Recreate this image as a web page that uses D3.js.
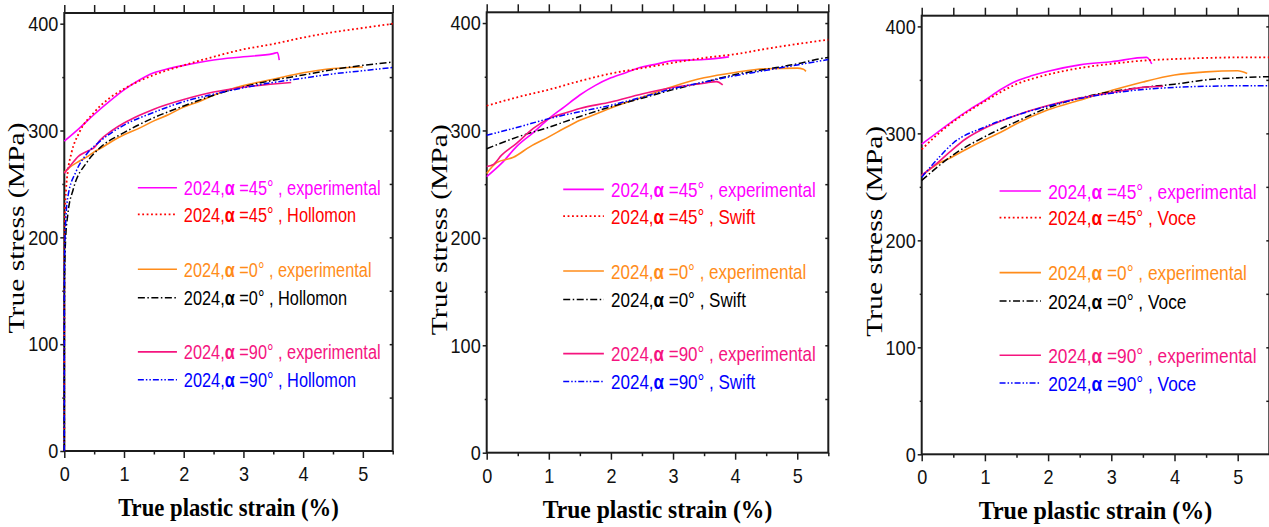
<!DOCTYPE html>
<html>
<head>
<meta charset="utf-8">
<script src="https://cdn.jsdelivr.net/npm/d3@7"></script>
<style>
  body { margin: 0; background: #fff; }
  svg { display: block; }
</style>
</head>
<body>
<svg id="chart" width="1269" height="527"></svg>
<script>
// tick labels and names
const strainTicks = [0, 1, 2, 3, 4, 5];
const stressTicks = [0, 100, 200, 300, 400];
const models = ["Hollomon", "Swift", "Voce"];
const angles = ["45", "45", "0", "0", "90", "90"];

// [true plastic strain %, true stress MPa]
// panel 1 - Hollomon
const hol_exp45 = [[0,290],[0.25,302],[0.5,315],[0.75,327],[1,338],[1.25,347],[1.5,354],[1.75,358],[2,361],[2.5,366],[3,369],[3.5,372],[3.57,373],[3.6,366]];
const hol_fit45 = [[0,0],[0.002,180],[0.01,220],[0.03,245],[0.06,262],[0.12,279],[0.25,298],[0.5,317],[0.75,330],[1,339],[1.5,352],[2,361],[2.5,369],[3,376],[3.5,381],[4,387],[4.5,392],[5,396],[5.5,400]];
const hol_exp0 = [[0,261],[0.1,266],[0.24,271],[0.4,276],[0.5,280],[0.6,283],[0.8,290],[1,296],[1.25,302],[1.5,309],[1.75,315],[2,322],[2.25,327],[2.5,333],[2.75,338],[3,342],[3.5,348],[4,354],[4.5,358],[5,359.5]];
const hol_fit0 = [[0,0],[0.001,140],[0.005,167],[0.02,196],[0.06,222],[0.15,245],[0.375,270],[0.6,284],[1,298],[1.5,312],[2,323],[2.5,333],[3,341],[3.5,347],[4,352],[4.5,357],[5,361],[5.5,364]];
const hol_exp90 = [[0,260],[0.1,267],[0.24,276],[0.4,281],[0.5,284],[0.6,291],[0.8,300],[1,307],[1.25,314],[1.5,320],[2,329],[2.5,336],[3,340.5],[3.5,343.5],[3.8,345]];
const hol_fit90 = [[0,0],[0.001,150],[0.005,180],[0.02,210],[0.06,238],[0.2,262],[0.375,278],[0.6,290],[1,305],[1.5,317],[2,327],[2.5,334],[3,340],[3.5,345],[4,349],[4.5,353],[5,356],[5.5,359]];

// panel 2 - Swift
const swi_exp45 = [[0,257],[0.25,270],[0.48,285],[0.75,298],[1,311],[1.25,322],[1.5,333],[1.75,342],[2,349],[2.25,354],[2.5,359],[2.75,362],[3,365],[3.5,366],[3.9,368.5]];
const swi_fit45 = [[0,323],[0.5,331],[1,338],[1.5,346],[2,353],[2.5,358],[3,363],[3.5,367.5],[4,371],[4.5,376],[5,380.5],[5.5,384.5]];
const swi_exp0 = [[0,260],[0.16,270],[0.43,275],[0.7,285],[1,294],[1.25,302],[1.5,309.5],[1.75,315],[2,321],[2.5,331],[3,341],[3.5,349],[4,354],[4.5,357.5],[5,358],[5.1,357],[5.14,355]];
const swi_fit0 = [[0,283],[0.5,294],[1,303],[1.5,313],[2,322],[2.5,330],[3,338],[3.5,345],[4,352],[4.5,357],[5,362],[5.3,366],[5.5,368]];
const swi_exp90 = [[0,266.5],[0.1,268],[0.24,277],[0.48,288],[0.75,302],[1,311],[1.25,316],[1.5,320.5],[2,326.5],[2.5,334],[3,340],[3.5,344],[3.7,345.5],[3.8,342.5]];
const swi_fit90 = [[0,295.5],[0.5,303],[1,311],[1.5,317.5],[2,323.5],[2.5,331],[3,339],[3.5,345],[4,351],[4.5,356],[5,361],[5.5,366]];

// panel 3 - Voce
const voc_exp45 = [[0,290],[0.25,301],[0.5,312],[0.75,322],[1,331],[1.25,341],[1.5,349],[1.75,354],[2,358],[2.5,364],[3,367],[3.56,371],[3.64,365]];
const voc_fit45 = [[0,285],[0.25,299],[0.5,311],[0.75,321],[1,330],[1.5,346],[2,355],[2.5,361],[3,365],[3.5,368],[4,369.5],[4.5,370.5],[5,371],[5.5,371]];
const voc_exp0 = [[0,260],[0.24,271],[0.45,277],[0.7,285],[1,294],[1.25,301],[1.5,309],[2,322],[2.5,331],[3,340],[3.5,348],[4,354.5],[4.5,357.5],[5,358.5],[5.15,356]];
const voc_fit0 = [[0,256],[0.5,280],[1,297],[1.5,311],[2,324],[2.5,333],[3,339],[3.5,343],[4,346],[4.5,350],[5,352],[5.5,353]];
const voc_exp90 = [[0,261],[0.24,272],[0.45,283],[0.7,295],[1,305],[1.5,317],[2,326],[2.5,333],[3,338],[3.5,343],[3.82,344]];
const voc_fit90 = [[0,259],[0.25,276],[0.5,291],[1,306],[1.5,317],[2,325.5],[2.5,332.5],[3,337.5],[3.5,341],[4,343],[4.5,344],[5,344.5],[5.5,344.5]];

const panelSeries = [
    [hol_exp45, hol_fit45, hol_exp0, hol_fit0, hol_exp90, hol_fit90],
    [swi_exp45, swi_fit45, swi_exp0, swi_fit0, swi_exp90, swi_fit90],
    [voc_exp45, voc_fit45, voc_exp0, voc_fit0, voc_exp90, voc_fit90]
];

// styles, same order as the series
const colors = ["#ff00ff", "#ff0000", "#ff8c1a", "#000000", "#f5147f", "#0000ff"];
const dashes = [null, "1.8,2.6", null, "7,2.5,1.5,2.5", null, "6,2,1.5,2,1.5,2"];
const widths = [1.6, 1.8, 1.6, 1.5, 1.6, 1.5];

// pixel boxes of the three plots
const boxes = [
    { left: 64.3, right: 392.7, top: 13, bottom: 451 },
    { left: 486.7, right: 828.3, top: 12.3, bottom: 452.7 },
    { left: 921.7, right: 1269.3, top: 15.7, bottom: 454.3 }
];
const legendRows = [263.3, 236.6, 181.7, 153.2, 99.1, 71.2]; // px above the x axis

const svg = d3.select("#chart");
const sans = "'Liberation Sans', Arial, sans-serif";
const serif = "'Liberation Serif', 'Times New Roman', serif";
const frameColor = "#1c1c1c";

function squeeze(sel, f) {
    sel.each(function () {
        const w = this.getComputedTextLength();
        d3.select(this).attr("textLength", w * f).attr("lengthAdjust", "spacingAndGlyphs");
    });
}

boxes.forEach((b, i) => {
    const w = b.right - b.left;
    const x = d3.scaleLinear().domain([0, 5.5]).range([b.left, b.right]);
    const y = d3.scaleLinear().domain([0, 410]).range([b.bottom, b.top]);
    const halves = d3.range(0, 5.51, 0.5);
    const g = svg.append("g");

    // axes
    const styleAxis = (a) => {
        a.select(".domain").remove();
        a.selectAll("line").attr("stroke", frameColor).attr("stroke-width", 1.5);
    };
    const xb = g.append("g").attr("transform", `translate(0,${b.bottom})`)
        .call(d3.axisBottom(x).tickValues(strainTicks).tickSize(7).tickPadding(8).tickFormat(d3.format("d")))
        .call(styleAxis);
    g.append("g").attr("transform", `translate(0,${b.bottom})`)
        .call(d3.axisBottom(x).tickValues(halves.filter(v => v % 1 !== 0)).tickSize(3.5).tickFormat(""))
        .call(styleAxis);
    g.append("g").attr("transform", `translate(0,${b.top})`)
        .call(d3.axisTop(x).tickValues(halves).tickSize(8).tickFormat(""))
        .call(styleAxis);
    const yl = g.append("g").attr("transform", `translate(${b.left},0)`)
        .call(d3.axisLeft(y).tickValues(stressTicks).tickSize(4).tickPadding(2))
        .call(styleAxis);
    g.append("g").attr("transform", `translate(${b.left},0)`)
        .call(d3.axisLeft(y).tickValues([50, 150, 250, 350]).tickSize(2).tickFormat(""))
        .call(styleAxis);
    g.append("g").attr("transform", `translate(${b.right},0)`)
        .call(d3.axisRight(y).tickValues([50, 100, 150, 200, 250, 300, 350, 400]).tickSize(-3).tickFormat(""))
        .call(styleAxis);

    [xb, yl].forEach(a => {
        const t = a.selectAll("text").attr("font-family", sans).attr("font-size", 21).attr("fill", "#111");
        squeeze(t, 0.86);
    });

    // frame
    g.append("rect")
        .attr("x", b.left).attr("y", b.top)
        .attr("width", w).attr("height", b.bottom - b.top)
        .attr("fill", "none").attr("stroke", frameColor).attr("stroke-width", 2);

    // curves
    const line = d3.line().x(d => x(d[0])).y(d => y(d[1])).curve(d3.curveMonotoneX);
    panelSeries[i].forEach((s, k) => {
        g.append("path")
            .attr("d", line(s))
            .attr("fill", "none")
            .attr("stroke", colors[k])
            .attr("stroke-width", widths[k])
            .attr("stroke-dasharray", dashes[k]);
    });

    // legend
    const lx0 = b.left + 0.224 * w, lx1 = b.left + 0.343 * w, tx = b.left + 0.364 * w;
    const sx = 0.00237 * w;
    legendRows.forEach((off, k) => {
        const ry = b.bottom - off;
        g.append("line")
            .attr("x1", lx0).attr("x2", lx1).attr("y1", ry).attr("y2", ry)
            .attr("stroke", colors[k]).attr("stroke-width", widths[k])
            .attr("stroke-dasharray", dashes[k]);
        const t = g.append("text")
            .attr("transform", `translate(${tx},${ry + 7.5}) scale(${sx},1)`)
            .attr("font-family", sans).attr("font-size", 21).attr("fill", colors[k]);
        t.append("tspan").text("2024,");
        t.append("tspan").attr("font-weight", "bold").text("α");
        t.append("tspan").text(` =${angles[k]}° , ${k % 2 === 0 ? "experimental" : models[i]}`);
    });

    // titles
    g.append("text")
        .attr("x", (b.left + b.right) / 2).attr("y", b.bottom + 65)
        .attr("text-anchor", "middle")
        .attr("font-family", serif).attr("font-weight", "bold").attr("font-size", 25)
        .attr("textLength", 0.672 * w).attr("lengthAdjust", "spacingAndGlyphs")
        .text("True plastic strain (%)");
    g.append("text")
        .attr("transform", `translate(${b.left - 40},${b.bottom - 223}) rotate(-90)`)
        .attr("text-anchor", "middle")
        .attr("font-family", serif).attr("font-size", 23)
        .attr("textLength", 211).attr("lengthAdjust", "spacingAndGlyphs")
        .text("True stress (MPa)");
});
</script>
</body>
</html>
